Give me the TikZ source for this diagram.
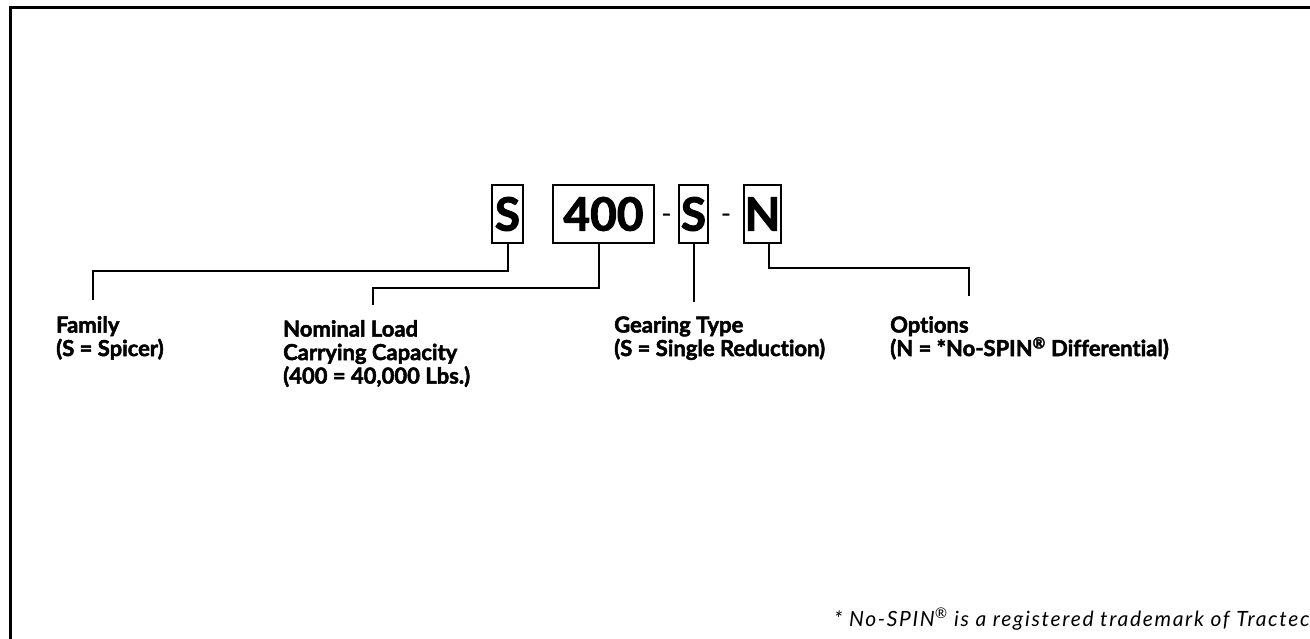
\documentclass[tikz,border=0pt]{standalone}
\usepackage{fontspec}
\setmainfont{Lato}[Ligatures=NoCommon, BoldFeatures={FakeBold=2.2}]
\usepackage{tikz}
\usetikzlibrary{positioning,calc}
\tikzset{
  codebox/.style={rectangle, draw, line width=2pt, inner sep=0pt, minimum height=58pt,
                  font=\bfseries\fontsize{46}{46}\selectfont},
  hyph/.style={inner sep=0pt, font=\fontsize{28}{28}\selectfont},
  conn/.style={line width=2pt},
  desc/.style={anchor=north west, align=left, inner sep=0pt,
               font=\bfseries\fontsize{22}{23.5}\selectfont},
  note/.style={anchor=base west, inner sep=0pt,
               font=\itshape\fontsize{21}{22}\selectfont\addfontfeature{LetterSpace=8}},
}

\begin{document}
\begin{tikzpicture}[x=1pt, y=-1pt]
\useasboundingbox (0,0) rectangle (1310,639);
\clip (0,0) rectangle (1310,639);
\draw[line width=3pt] (10,7.5) rectangle (1330,660);

% the code boxes
\node[codebox, minimum width=31pt] (fam) at (507.5,214) {S};
\node[codebox, minimum width=101pt, right=28pt of fam] (load) {400};
\node[codebox, minimum width=29pt, right=23pt of load] (gear) {S};
\node[codebox, minimum width=37pt, right=34pt of gear] (opt) {N};
\node[hyph, yshift=-5pt] (d1) at ($(load.east)!0.5!(gear.west)$) {-};
\node[hyph, yshift=-5pt] (d2) at ($(gear.east)!0.5!(opt.west)$) {-};

% descriptions
\node[desc] (famtxt) at (56,316) {Family\\(S = Spicer)};
\node[desc] (loadtxt) at (283,320) {Nominal Load\\Carrying Capacity\\(400 = 40,000 Lbs.)};
\node[desc] (geartxt) at (614,316) {Gearing Type\\(S = Single Reduction)};
\node[desc] (opttxt) at (890,316) {Options\\(N = *No-SPIN\textsuperscript{®} Differential)};

\coordinate (famend) at ([xshift=37pt, yshift=16pt]famtxt.north west);
\coordinate (loadend) at ([xshift=90pt, yshift=15pt]loadtxt.north west);
\coordinate (gearend) at ([yshift=14pt]geartxt.north west);
\coordinate (optend) at ([xshift=79pt, yshift=20pt]opttxt.north west);

\draw[conn] (fam.south) -- ++(0,27) -| (famend);
\draw[conn] ([xshift=-4.5pt]load.south) -- ++(0,44) -| (loadend);
\draw[conn] (gear.south) -- (gear.south |- gearend);
\draw[conn] ([xshift=6.5pt]opt.south) -- ++(0,24.5) -| (optend);

\node[note] (tm) at (834,626) {* No-SPIN\textsuperscript{®} is a registered trademark of Tractech};
\end{tikzpicture}
\end{document}
